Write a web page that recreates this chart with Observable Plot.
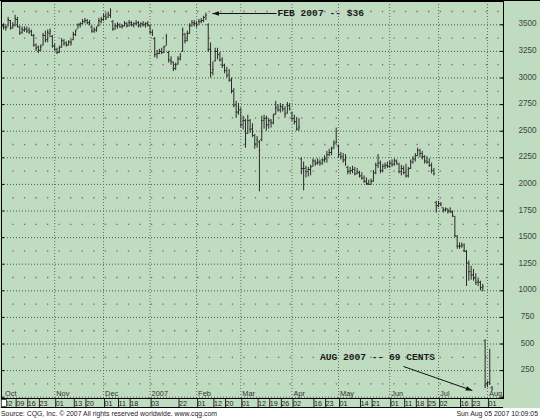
<!DOCTYPE html>
<html><head><meta charset="utf-8">
<script src="https://cdn.jsdelivr.net/npm/d3@7"></script>
<script src="https://cdn.jsdelivr.net/npm/@observablehq/plot@0.6"></script>
<style>
html,body{margin:0;padding:0;background:#fff;}
#wrap{width:540px;height:419px;position:relative;overflow:hidden;background:#fff;}
#chart svg{display:block;}
#foot{height:11px;width:540px;position:relative;font:6.9px "Liberation Sans",Arial,sans-serif;color:#222;background:#fff;}
#foot .l{position:absolute;left:1px;top:0;line-height:11px;white-space:nowrap;}
#foot .r{position:absolute;right:2px;top:0;line-height:11px;white-space:nowrap;}
</style></head><body>
<div id="wrap"><div id="chart"></div><div id="foot"><span class="l">Source: CQG, Inc. © 2007 All rights reserved worldwide. www.cqg.com</span><span class="r">Sun Aug 05 2007 10:09:05</span></div></div>
<script>
// Daily OHLC (price x100), trading days Oct 2 2006 .. Aug 3 2007
const open = [
3490,3480,3480,3540,3470,3500,3550,3480,3430,3450,3460,3450,3440,3400,3310,3290,3260,3310,3400,3360,3420,3390,
3300,3270,3240,3290,3350,3330,3310,3340,3360,3410,3460,3500,3510,3530,3540,3520,3480,3440,3450,3490,3530,
3550,3580,3570,3590,3530,3460,3490,3500,3480,3490,3510,3490,3520,3500,3510,3520,3490,3510,3500,3510,
3490,3430,3370,3220,3230,3250,3240,3300,3240,3170,3150,3090,3130,3180,3250,3410,3350,3420,3490,3520,
3510,3500,3530,3540,3570,3500,3270,3050,3160,3250,3220,3170,3120,3070,3030,2980,2880,2750,2680,
2700,2560,2600,2480,2600,2520,2460,2380,2400,2420,2600,2620,2560,2600,2580,2660,2720,2700,2730,2710,2670,2740,
2670,2620,2590,2520,2240,2150,2150,2120,2140,2170,2220,2200,2210,2200,2230,2240,2280,2300,2340,2390,
2360,2280,2260,2230,2160,2120,2130,2140,2100,2110,2080,2060,2030,2010,2000,2030,2110,2180,2200,2130,2170,2180,
2170,2200,2190,2220,2190,2120,2150,2110,2080,2150,2210,2240,2270,2320,2290,2260,2220,2210,2180,2130,1830,
1800,1820,1780,1760,1770,1750,1740,1700,1510,1420,1420,1430,1370,1260,1180,1150,1120,1080,1080,1030,530,
130,140,90];
const high = [
3510,3500,3570,3540,3520,3590,3570,3490,3480,3480,3480,3470,3450,3410,3320,3300,3310,3420,3440,3450,3460,3400,
3320,3280,3300,3370,3360,3340,3350,3360,3430,3450,3510,3520,3550,3560,3550,3540,3490,3470,3480,3560,3570,
3600,3610,3620,3650,3540,3510,3520,3510,3500,3530,3520,3540,3530,3520,3540,3530,3520,3530,3520,3530,
3500,3450,3380,3260,3270,3280,3300,3410,3250,3200,3150,3140,3200,3230,3470,3420,3440,3510,3540,3540,
3530,3550,3560,3580,3610,3510,3330,3150,3280,3280,3240,3190,3130,3100,3080,3000,2900,2780,2760,
2720,2640,2610,2650,2610,2570,2470,2450,2410,2640,2650,2640,2620,2610,2660,2780,2750,2760,2750,2730,2770,2760,
2680,2650,2630,2620,2250,2210,2170,2160,2180,2240,2230,2240,2230,2240,2270,2310,2330,2350,2410,2530,
2370,2300,2290,2280,2170,2160,2170,2160,2150,2120,2110,2080,2060,2040,2050,2130,2200,2280,2220,2190,2200,2210,
2220,2230,2240,2230,2200,2180,2170,2190,2160,2230,2260,2290,2340,2330,2310,2270,2260,2240,2200,2150,1840,
1840,1830,1780,1780,1770,1780,1750,1700,1520,1450,1450,1440,1380,1280,1230,1200,1160,1120,1090,1060,540,
150,450,100];
const low = [
3450,3440,3480,3450,3460,3480,3470,3400,3410,3430,3420,3410,3390,3290,3250,3230,3250,3300,3330,3330,3380,3280,
3250,3220,3230,3280,3300,3290,3300,3300,3350,3390,3460,3470,3500,3510,3500,3490,3420,3420,3430,3480,3510,
3530,3540,3560,3560,3440,3450,3460,3470,3460,3480,3470,3480,3480,3470,3490,3470,3470,3480,3470,3480,
3410,3390,3190,3180,3220,3220,3230,3300,3140,3120,3060,3070,3120,3160,3240,3320,3340,3410,3480,3480,
3470,3500,3510,3520,3540,3240,3000,3020,3150,3170,3150,3090,3040,3000,2960,2850,2720,2620,2650,
2530,2510,2340,2470,2480,2440,2330,2340,1930,2400,2520,2500,2520,2530,2560,2650,2680,2670,2680,2620,2660,2690,
2590,2560,2500,2500,2090,1940,2060,2070,2080,2160,2170,2180,2170,2180,2200,2200,2260,2270,2330,2380,
2250,2230,2200,2170,2090,2090,2100,2080,2090,2060,2040,2010,1990,1990,1990,2020,2090,2150,2100,2110,2140,2150,
2150,2160,2170,2180,2100,2080,2090,2060,2060,2140,2190,2210,2260,2250,2230,2190,2190,2160,2100,2080,1730,
1780,1790,1730,1740,1720,1730,1690,1500,1390,1390,1400,1360,1040,1090,1100,1090,1050,1040,1000,990,80,
90,110,60];
const close = [
3480,3470,3550,3470,3490,3560,3490,3420,3460,3460,3440,3430,3400,3310,3280,3260,3290,3400,3350,3430,3440,3300,
3270,3240,3280,3350,3320,3310,3340,3330,3410,3440,3500,3510,3530,3540,3520,3510,3440,3460,3470,3540,3550,
3580,3560,3600,3630,3460,3490,3500,3480,3490,3520,3490,3520,3500,3510,3510,3490,3510,3500,3510,3500,
3430,3420,3220,3230,3250,3240,3290,3390,3170,3160,3090,3120,3180,3200,3450,3350,3420,3490,3520,3510,
3500,3530,3540,3570,3590,3270,3050,3080,3250,3220,3170,3120,3070,3020,2980,2880,2740,2680,2720,
2560,2600,2420,2600,2520,2490,2380,2420,2320,2600,2620,2560,2600,2580,2640,2720,2700,2740,2710,2660,2740,2710,
2620,2580,2520,2540,2150,2150,2120,2140,2160,2220,2200,2210,2200,2230,2240,2280,2300,2330,2380,2400,
2280,2260,2230,2190,2120,2130,2140,2100,2120,2080,2060,2030,2010,2000,2030,2110,2180,2200,2130,2170,2180,2170,
2200,2190,2220,2200,2120,2150,2110,2080,2140,2210,2240,2270,2320,2290,2260,2220,2210,2180,2130,2100,1800,
1820,1810,1760,1770,1750,1740,1710,1520,1420,1420,1430,1380,1260,1180,1150,1120,1080,1090,1030,1040,110,
120,130,69];

const monthLabels = ["Oct","Nov","Dec","2007","Feb","Mar","Apr","May","Jun","Jul","Aug"];
const monthStart  = [0,22,43,63,83,102,124,144,166,187,208];
const dayLabels = ["02","09","16","23","01","13","20","01","11","18","03","22","01","12","20","01","12","19","26","02","16","23","01","14","21","01","11","18","25","02","16","23","01"];
const dayIndex  = [0,5,10,15,22,30,35,43,49,54,63,75,83,90,95,102,109,114,119,124,133,138,144,153,158,166,172,177,182,187,196,201,208];
const priceLabels = [250,500,750,1000,1250,1500,1750,2000,2250,2500,2750,3000,3250,3500];
const gridLevels = [0,250,500,750,1000,1250,1500,1750,2000,2250,2500,2750,3000,3250,3500];

const noteText = ["FEB 2007 -- $36", "AUG 2007 -- 69 CENTS"];
const noteAt   = [[117.8, 3615], [136.0, 380]];
const arrowFrom = [[117.4, 3606], [171.9, 289]];
const arrowTo   = [[89.8, 3606], [201.5, 63]];

const W = 540, H = 408, ML = 1, MR = 37, MT = 1, MB = 10;
const XD = [-0.86, 214.9], YD = [-12, 3719];
const xs = d3.scaleLinear().domain(XD).range([ML, W - MR]);
const ys = d3.scaleLinear().domain(YD).range([H - MB, MT]);

const rows = d3.range(high.length).map(i => ({i, o: open[i], h: high[i], l: low[i], c: close[i]}));
const midLevels = d3.range(125, 3700, 250);
const weekPos = d3.range(0, 43).map(k => 4.09 + 4.963 * k);
const minorDots = d3.cross(weekPos, midLevels).map(([x, y]) => ({x, y}));
const notes = noteText.map((t, k) => ({t, x: noteAt[k][0], y: noteAt[k][1]}));
const arrows = arrowFrom.map((f, k) => ({x1: f[0], y1: f[1], x2: arrowTo[k][0], y2: arrowTo[k][1]}));
const headAngle = d => Math.atan2(ys(d.y2) - ys(d.y1), xs(d.x2) - xs(d.x1)) * 180 / Math.PI + 90;
const head = {draw(ctx, size) { const r = Math.sqrt(size / Math.PI); ctx.moveTo(0, 0); ctx.lineTo(-0.85 * r, 2.5 * r); ctx.lineTo(0.85 * r, 2.5 * r); ctx.closePath(); }};

const ink = "#2a2a2a";
const svg = Plot.plot({
  width: W, height: H, marginLeft: ML, marginRight: MR, marginTop: MT, marginBottom: MB,
  x: {domain: XD, axis: null},
  y: {domain: YD, axis: null},
  style: {background: "#c0dcc0", fontFamily: "'Liberation Sans', Arial, sans-serif", overflow: "visible"},
  marks: [
    Plot.ruleY(gridLevels, {y: d => d, stroke: "#555", strokeDasharray: "1,2"}),
    Plot.ruleX(monthStart.slice(1), {x: d => d, stroke: "#666", strokeDasharray: "1,2"}),
    Plot.dot(minorDots, {x: "x", y: "y", r: 0.75, symbol: "square", fill: "#9b4f9b", stroke: null}),
    Plot.tickY(gridLevels, {y: d => d, insetRight: W - ML - MR - 3, stroke: "#000"}),
    Plot.tickY(gridLevels, {y: d => d, insetLeft: W - ML - MR - 3, stroke: "#000"}),
    Plot.ruleX(rows, {x: "i", y1: "l", y2: "h", stroke: ink}),
    Plot.ruleY(rows, {y: "o", x1: d => d.i - 0.5, x2: "i", stroke: ink}),
    Plot.ruleY(rows, {y: "c", x1: "i", x2: d => d.i + 0.5, stroke: ink}),
    Plot.text(monthLabels, {x: (d, j) => monthStart[j], text: d => d, frameAnchor: "bottom", textAnchor: "start", lineAnchor: "bottom", dx: 1.5, dy: -2.5, fontSize: 7.4, fill: "#333"}),
    Plot.axisX(dayIndex, {anchor: "bottom", tickSize: 9, tickPadding: -7, tickFormat: d => dayLabels[dayIndex.indexOf(d)], textAnchor: "start", dx: 1, fontSize: 7.2, color: "#222"}),
    Plot.text(priceLabels, {y: d => d, text: d => String(d), frameAnchor: "right", dx: 24, dy: -1, textAnchor: "middle", fontSize: 8.2, fill: "#444", ariaLabel: "ylabels"}),
    Plot.link(arrows, {x1: "x1", y1: "y1", x2: "x2", y2: "y2", stroke: "#111", strokeWidth: 1}),
    Plot.dot(arrows, {x: "x2", y: "y2", symbol: head, r: 2.6, fill: "#111", stroke: null, rotate: headAngle}),
    Plot.text(notes, {x: "x", y: "y", text: "t", textAnchor: "start", fontSize: 9.6, fontWeight: "bold", fontFamily: "'Liberation Mono', monospace", fill: "#1a1a1a"}),
    Plot.frame({stroke: "#000"})
  ]
});
document.getElementById("chart").appendChild(svg);
// smaller last two digits on price labels (CQG style)
d3.select(svg).selectAll("g[aria-label=ylabels] text").each(function() {
  const s = this.textContent;
  this.textContent = "";
  d3.select(this).append("tspan").text(s.slice(0, -2));
  d3.select(this).append("tspan").attr("font-size", 6.6).text(s.slice(-2));
});
// day-row bottom line, top border, scroll box
const g = d3.select(svg).append("g");
g.append("line").attr("x1", ML).attr("x2", W - MR).attr("y1", H - 0.5).attr("y2", H - 0.5).attr("stroke", "#000");
g.append("line").attr("x1", 0).attr("x2", W).attr("y1", 0.5).attr("y2", 0.5).attr("stroke", "#000");
g.append("rect").attr("x", 1.5).attr("y", H - MB + 1.5).attr("width", 5).attr("height", 7).attr("fill", "#fff").attr("stroke", "#000").attr("stroke-width", 0.6);
</script>
</body></html>
